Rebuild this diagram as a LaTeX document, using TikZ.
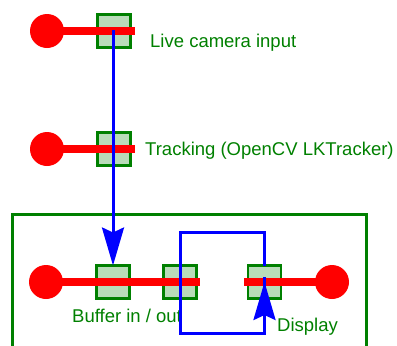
\documentclass[tikz,border=0pt]{standalone}
\usepackage{fontspec}
\setmainfont{Liberation Sans}
\usetikzlibrary{arrows.meta}
\definecolor{dgreen}{RGB}{0,128,0}
\definecolor{sqfill}{RGB}{185,220,185}
\tikzset{
  sq/.style={draw=dgreen, line width=2.5pt, fill=sqfill, minimum width=33pt, minimum height=33pt, inner sep=0pt, outer sep=0pt},
  dot/.style={circle, fill=red, minimum size=34pt, inner sep=0pt, outer sep=0pt},
  rline/.style={red, line width=8pt},
  bline/.style={blue, line width=3pt},
  lbl/.style={text=dgreen, inner sep=0pt, anchor=base west, font=\fontsize{18.5}{20}\selectfont},
  bigarrow/.style={-{Stealth[length=38pt, width=22pt, inset=5pt]}}
}
\begin{document}
\begin{tikzpicture}[x=1pt, y=-1pt]
\useasboundingbox (0,0) rectangle (397,346);
\clip (0,0) rectangle (397,346);
% frame
\draw[dgreen, line width=3pt] (12,360) -- (12,214) -- (366,214) -- (366,360);
% row 1
\node[dot] (c1) at (47,31) {};
\node[sq] (s1) at (114,31) {};
\coordinate (e1) at (135,31);
\draw[rline] (c1.center) -- (e1);
\node[lbl] (t1) at (150,47) {Live camera input};
% row 2
\node[dot] (c2) at (47,149) {};
\node[sq] (s2) at (114,149) {};
\coordinate (e2) at (135,149);
\draw[rline] (c2.center) -- (e2);
\node[lbl] (t2) at (145,155) {Tracking (OpenCV LKTracker)};
% row 3
\node[dot] (c3) at (46,282) {};
\node[dot] (c4) at (332,282) {};
\node[sq] (sA) at (113,282) {};
\node[sq] (sB) at (180,282) {};
\node[sq] (sC) at (264.5,282) {};
\coordinate (e3) at (200,282);
\coordinate (e4) at (244,282);
\draw[rline] (c3.center) -- (e3);
\draw[rline] (e4) -- (c4.center);
\node[lbl] (t3) at (72,322) {Buffer in / out};
\node[lbl] (t4) at (277,331) {Display};
% blue connectors
\draw[bline, bigarrow] (113,30) -- (sA.north);
\coordinate (b1) at (264.5,232);
\coordinate (b2) at (180,232);
\coordinate (b3) at (180,333);
\coordinate (b4) at (264.5,333);
\draw[bline] (sC.north) -- (b1) -- (b2) -- (b3) -- (b4) -- ([yshift=5pt]sC.center);
\draw[bline, bigarrow] (b4) -- (sC.center);
\end{tikzpicture}
\end{document}
